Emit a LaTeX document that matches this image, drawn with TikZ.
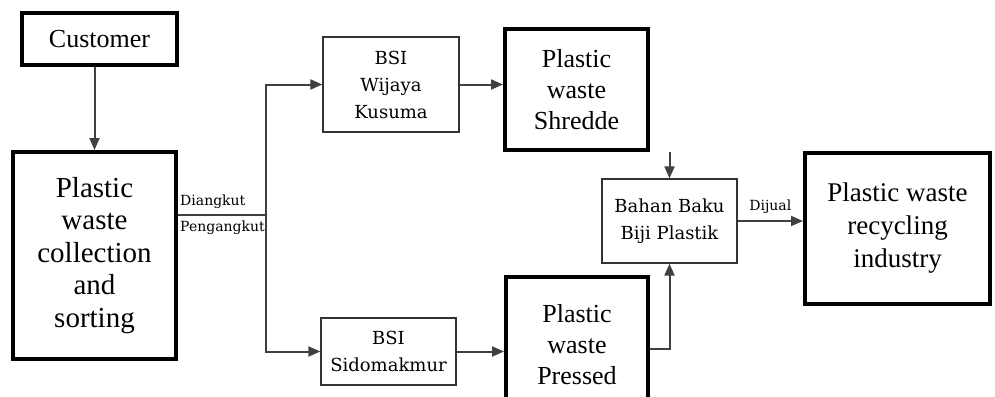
\documentclass[tikz,border=0pt]{standalone}
\usepackage{fontspec}
\setmainfont{Liberation Serif}
\newfontfamily\slabfont{DejaVu Serif}
\usetikzlibrary{arrows.meta, positioning}

\begin{document}
\begin{tikzpicture}[x=1pt, y=-1pt, >={Triangle[length=12pt,width=10pt]}]
    \tikzstyle{heavy} = [draw, line width=4pt, text centered, align=center,
    inner sep=0pt] \tikzstyle{light} = [draw=black!80, line width=1.3pt,
    align=center, inner sep=0pt, font=\slabfont\fontsize{18}{27}\selectfont]
    \tikzstyle{flow} = [->, draw=black!75, line width=2pt]
    \tikzstyle{tag} = [font=\slabfont\fontsize{14}{16}\selectfont, inner sep=2pt]
    \useasboundingbox (0,0) rectangle (995,396);
    \clip (0,0) rectangle (995,396);
    \node [heavy, minimum width=155pt, minimum height=52pt,
    font=\fontsize{26}{30}\selectfont] at (99.5,39) (customer) {Customer};
    \node [heavy, minimum width=163pt, minimum height=207pt,
    font=\fontsize{29}{32.5}\selectfont] at (94.5,255.5) (collection)
    {Plastic\\waste\\collection\\and\\sorting};
    \node [light, minimum width=136pt, minimum height=95pt] at (391,84.5)
    (wijaya) {BSI\\Wijaya\\Kusuma};
    \node [light, minimum width=135pt, minimum height=67pt] at (388.5,351.5)
    (sidomakmur) {BSI\\Sidomakmur};
    \node [heavy, minimum width=143pt, minimum height=121pt,
    font=\fontsize{26}{31}\selectfont] at (576.5,89.5) (shredded)
    {Plastic\\waste\\Shredde};
    \node [heavy, minimum width=142pt, minimum height=136pt,
    font=\fontsize{26}{31}\selectfont] at (577,345) (pressed)
    {Plastic\\waste\\Pressed};
    \node [light, minimum width=135pt, minimum height=84pt] at (669.5,221)
    (bahan) {Bahan Baku\\Biji Plastik};
    \node [heavy, minimum width=185pt, minimum height=151pt,
    font=\fontsize{27}{33}\selectfont] at (897.5,228.5) (industry)
    {Plastic waste\\recycling\\industry};
    \coordinate (split) at (266,215);
    \draw[flow] (customer.south -| collection.north) to (collection.north);
    \draw[flow, -] (split -| collection.east) to (split);
    \draw[flow] (split) |- (wijaya.west);
    \draw[flow] (split) |- (sidomakmur.west);
    \node [tag, anchor=south west] at ([yshift=4pt]collection.east |- split)
    {Diangkut};
    \node [tag, anchor=north west] at ([yshift=-4pt]collection.east |- split)
    {Pengangkut};
    \draw[flow] (wijaya.east) to (wijaya.east -| shredded.west);
    \draw[flow] (sidomakmur.east) to (sidomakmur.east -| pressed.west);
    \draw[flow] (bahan.north |- shredded.south) to (bahan.north);
    \draw[flow] ([yshift=-4pt]pressed.east) -| (bahan.south);
    \draw[flow] (bahan.east) to node[tag, above=4pt] {Dijual}
    (bahan.east -| industry.west);
\end{tikzpicture}
\end{document}
